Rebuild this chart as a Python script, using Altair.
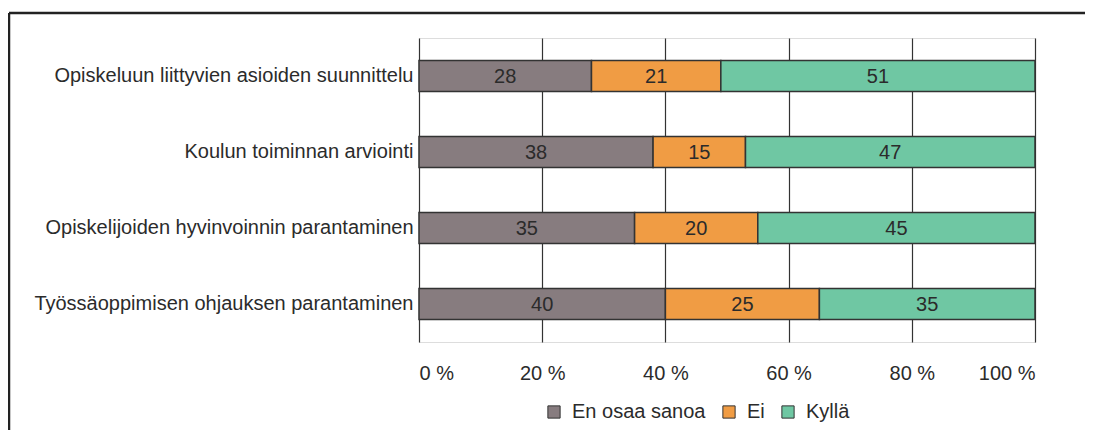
import altair as alt
import pandas as pd

categories = [
    "Opiskeluun liittyvien asioiden suunnittelu",
    "Koulun toiminnan arviointi",
    "Opiskelijoiden hyvinvoinnin parantaminen",
    "Työssäoppimisen ohjauksen parantaminen",
]
series = ["En osaa sanoa", "Ei", "Kyllä"]
en_osaa_sanoa = [28, 38, 35, 40]
ei = [21, 15, 20, 25]
kylla = [51, 47, 45, 35]
colors = ["#877c7f", "#f09c44", "#6fc7a3"]
x_ticks = [0, 20, 40, 60, 80, 100]

rows = []
for i, c in enumerate(categories):
    for j, (s, vals) in enumerate(zip(series, [en_osaa_sanoa, ei, kylla])):
        rows.append({"cat": c, "series": s, "value": vals[i], "order": j})
df = pd.DataFrame(rows)

FONT = "Liberation Sans"
FS = 20
TXT = "#2b2b2b"

base = alt.Chart(df)

y_enc = alt.Y(
    "cat:N",
    sort=categories,
    title=None,
    scale=alt.Scale(paddingInner=0.59, paddingOuter=0.295),
    axis=alt.Axis(
        labelFont=FONT, labelFontSize=FS, labelColor=TXT, labelPadding=6,
        ticks=False, domain=False, grid=False, labelLimit=500,
    ),
)

bars = base.mark_bar(stroke="#333333", strokeWidth=1.5).encode(
    x=alt.X(
        "value:Q",
        stack="zero",
        title=None,
        scale=alt.Scale(domain=[0, 100], nice=False),
        axis=alt.Axis(
            values=x_ticks, labelExpr="datum.value + ' %'",
            labelFont=FONT, labelFontSize=FS, labelColor=TXT, labelPadding=21,
            ticks=False, domain=False, grid=True, gridColor="#333333",
            gridWidth=1.2, gridOpacity=1,
        ),
    ),
    y=y_enc,
    color=alt.Color(
        "series:N",
        sort=series,
        scale=alt.Scale(domain=series, range=colors),
        legend=alt.Legend(
            title=None, orient="none", legendX=125, legendY=364,
            direction="horizontal", symbolType="square", symbolSize=150,
            symbolStrokeColor="#333333", symbolStrokeWidth=1,
            labelFont=FONT, labelFontSize=FS, labelColor=TXT,
            labelOffset=8, columnPadding=13,
        ),
    ),
    order=alt.Order("order:Q"),
)

labels = base.transform_stack(
    stack="value", groupby=["cat"], sort=[alt.SortField("order")], as_=["v0", "v1"]
).transform_calculate(mid="(datum.v0 + datum.v1) / 2").mark_text(
    font=FONT, fontSize=FS, color=TXT, baseline="middle", align="center", dy=1
).encode(
    x=alt.X("mid:Q"),
    y=alt.Y("cat:N", sort=categories),
    text=alt.Text("value:Q"),
)

frame_df = pd.DataFrame({"k": [0]})
frame_left = alt.Chart(frame_df).mark_rule(color="#222222", strokeWidth=2.5).encode(
    x=alt.value(-410), x2=alt.value(-410), y=alt.value(-25), y2=alt.value(420)
)
frame_top = alt.Chart(frame_df).mark_rule(color="#222222", strokeWidth=2.5).encode(
    x=alt.value(-410), x2=alt.value(700), y=alt.value(-25), y2=alt.value(-25)
)

chart = alt.layer(bars, labels, frame_left, frame_top).properties(
    width=616, height=304,
    padding={"left": 411, "top": 30, "right": 50, "bottom": 88},
    autosize=alt.AutoSizeParams(type="none"),
).configure_view(
    stroke="#333333", strokeWidth=1.5
).configure(background="white")

chart.save("out.html", embed_options={"renderer": "svg", "actions": False})
